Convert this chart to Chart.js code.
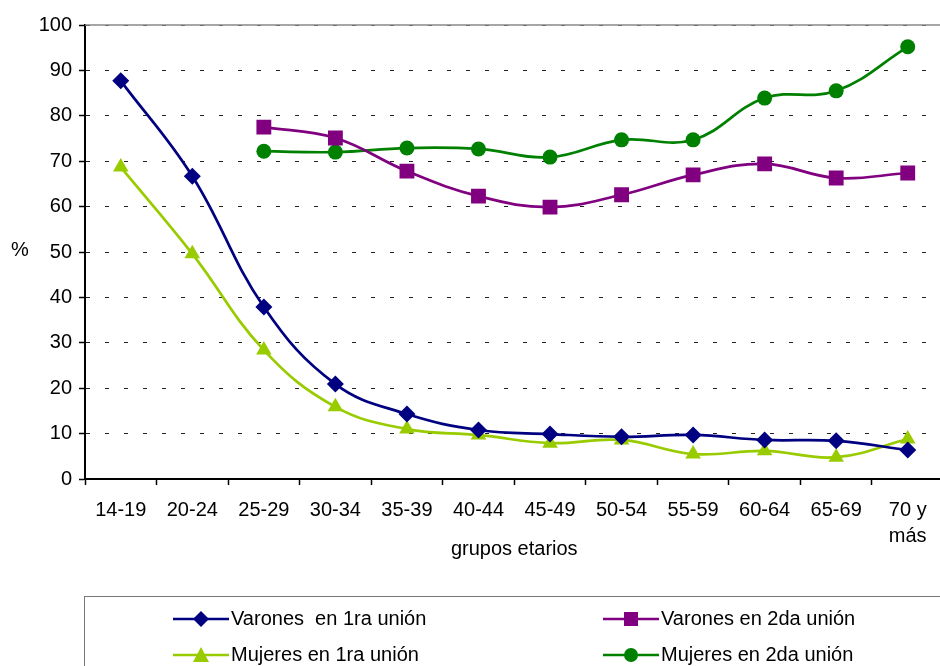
<!DOCTYPE html>
<html lang="es">
<head>
  <meta charset="UTF-8">
  <title>Grupos etarios</title>
  <script src="https://cdn.jsdelivr.net/npm/chart.js"></script>
  <style>
    body { margin: 0; background: #fff; font-family: "Liberation Sans", Arial, sans-serif; }
    #wrap { position: relative; width: 940px; height: 666px; overflow: hidden; }
    #yTitle { position: absolute; left: 11px; top: 238px; font-size: 20px; color: #000; }
    #leyenda { position: absolute; left: 84px; top: 596px; width: 900px; height: 100px; border: 1px solid #777; box-sizing: border-box; }
    .item { position: absolute; display: flex; align-items: center; font-size: 20px; color: #000; white-space: pre; }
    .item svg { margin-right: 2px; }
  </style>
</head>
<body>
<div id="wrap">
  <canvas id="grafico" width="954" height="666"></canvas>
  <span id="yTitle">%</span>
  <div id="leyenda"></div>
</div>

<script>
// datos
const grupos = ['14-19', '20-24', '25-29', '30-34', '35-39', '40-44', '45-49', '50-54', '55-59', '60-64', '65-69', ['70 y', 'más']];
const varones1ra = [87.7, 66.7, 37.9, 20.9, 14.3, 10.8, 9.9, 9.3, 9.7, 8.6, 8.4, 6.4];
const varones2da = [null, null, 77.5, 75.1, 67.8, 62.3, 59.9, 62.6, 67.0, 69.4, 66.3, 67.4];
const mujeres1ra = [68.7, 49.6, 28.4, 15.9, 11.0, 9.7, 7.9, 8.6, 5.5, 6.2, 4.8, 8.8];
const mujeres2da = [null, null, 72.2, 72.0, 72.9, 72.7, 70.9, 74.7, 74.7, 83.9, 85.5, 95.2];
const ticksY = [0, 10, 20, 30, 40, 50, 60, 70, 80, 90, 100];

const series = [
  { label: 'Varones  en 1ra unión', data: varones1ra, color: '#000080', punto: 'rectRot', radio: 8.5 },
  { label: 'Varones en 2da unión', data: varones2da, color: '#800080', punto: 'rect', radio: 10.5 },
  { label: 'Mujeres en 1ra unión', data: mujeres1ra, color: '#99CC00', punto: 'triangle', radio: 9 },
  { label: 'Mujeres en 2da unión', data: mujeres2da, color: '#008000', punto: 'circle', radio: 7.5 }
];

// linea gris arriba del area
const bordeSuperior = {
  id: 'bordeSuperior',
  afterDraw(chart) {
    const { ctx, chartArea } = chart;
    ctx.save();
    ctx.strokeStyle = '#888';
    ctx.lineWidth = 1.5;
    ctx.beginPath();
    ctx.moveTo(chartArea.left, chartArea.top);
    ctx.lineTo(chartArea.right, chartArea.top);
    ctx.stroke();
    ctx.restore();
  }
};

const ctx = document.getElementById('grafico').getContext('2d');
new Chart(ctx, {
  type: 'line',
  data: {
    labels: grupos,
    datasets: series.map(s => ({
      label: s.label,
      data: s.data,
      borderColor: s.color,
      backgroundColor: s.color,
      borderWidth: 2.7,
      tension: 0.4,
      pointStyle: s.punto,
      pointRadius: s.radio,
      pointBorderWidth: 0,
      fill: false
    }))
  },
  options: {
    responsive: false,
    animation: false,
    layout: { padding: { top: 25, right: 0, bottom: 101, left: 0 } },
    plugins: {
      legend: { display: false },
      tooltip: { enabled: false }
    },
    scales: {
      x: {
        offset: true,
        grid: { offset: true, drawOnChartArea: false, drawTicks: true, tickLength: 6, tickColor: '#000', tickWidth: 1.5 },
        border: { color: '#000', width: 2 },
        ticks: {
          color: '#000', padding: 12, maxRotation: 0, autoSkip: false,
          font: { family: 'Liberation Sans', size: 20, lineHeight: 1.3 }
        },
        title: {
          display: true, text: 'grupos etarios', color: '#000',
          font: { family: 'Liberation Sans', size: 20 }, padding: { top: 4, bottom: 4 }
        },
        afterFit(scale) { scale.height = 86; }
      },
      y: {
        min: 0, max: 100,
        afterBuildTicks(scale) { scale.ticks = ticksY.map(v => ({ value: v })); },
        grid: {
          color: c => (c.tick && c.tick.value === 0) ? 'rgba(0,0,0,0)' : '#222',
          lineWidth: 1,
          drawTicks: true, tickLength: 6, tickColor: '#000', tickWidth: 1.5, tickBorderDash: []
        },
        border: { color: '#000', width: 2, dash: [4, 15] },
        ticks: {
          color: '#000', padding: 7,
          font: { family: 'Liberation Sans', size: 20 }
        },
        afterFit(scale) { scale.width = 85; }
      }
    }
  },
  plugins: [bordeSuperior]
});

// leyenda en html
function icono(s) {
  const c = s.color;
  let marca = '';
  if (s.punto === 'rectRot') marca = `<polygon points="28,2 36,10 28,18 20,10" fill="${c}"/>`;
  if (s.punto === 'rect') marca = `<rect x="21" y="3" width="14" height="14" fill="${c}"/>`;
  if (s.punto === 'triangle') marca = `<polygon points="28,2 36,17 20,17" fill="${c}"/>`;
  if (s.punto === 'circle') marca = `<circle cx="28" cy="10" r="7" fill="${c}"/>`;
  return `<svg width="56" height="20"><line x1="0" y1="10" x2="56" y2="10" stroke="${c}" stroke-width="2.5"/>${marca}</svg>`;
}
const posiciones = [[88, 10], [518, 10], [88, 46], [518, 46]];
const leyenda = document.getElementById('leyenda');
series.forEach((s, i) => {
  const d = document.createElement('div');
  d.className = 'item';
  d.style.left = posiciones[i][0] + 'px';
  d.style.top = posiciones[i][1] + 'px';
  d.innerHTML = icono(s) + '<span>' + s.label + '</span>';
  leyenda.appendChild(d);
});
</script>
</body>
</html>
